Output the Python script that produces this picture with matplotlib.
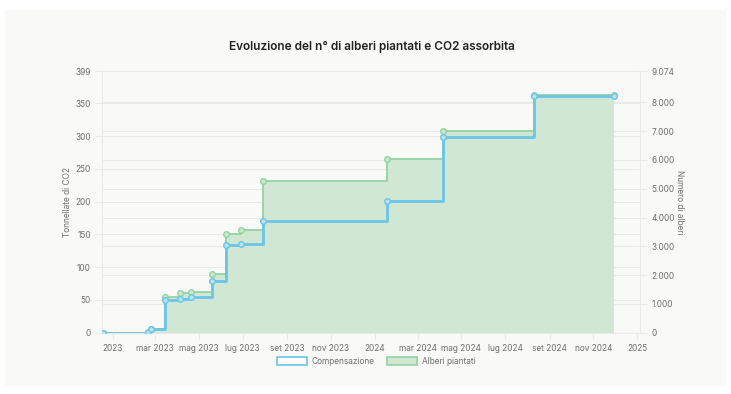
import datetime as dt
import matplotlib
matplotlib.use("Agg")
import matplotlib.pyplot as plt
import matplotlib.dates as mdates
from matplotlib.patches import Rectangle, Patch

# Data
dates = [
    "2022-12-19", "2023-02-19", "2023-02-23", "2023-03-15", "2023-04-05",
    "2023-04-20", "2023-05-19", "2023-06-08", "2023-06-29", "2023-07-29",
    "2024-01-19", "2024-04-06", "2024-08-10", "2024-11-30",
]
co2_tonnes = [0, 1, 5.5, 50, 51, 54, 79, 134, 136, 170, 200.5, 299.5, 362, 362]
trees = [0, 25, 125, 1250, 1370, 1410, 2040, 3430, 3560, 5280, 6020, 7010, 8250, 8250]

left_ticks = [0, 50, 100, 150, 200, 250, 300, 350, 399]
right_ticks = [0, 1000, 2000, 3000, 4000, 5000, 6000, 7000, 8000, 9074]
month_names = ["gen", "feb", "mar", "apr", "mag", "giu", "lug", "ago", "set", "ott", "nov", "dic"]

COLORS = {
    "blue": "#6cc4e6",
    "blue_face": "#b9e2f2",
    "green": "#93d3a2",
    "green_fill": "#d0e8d3",
    "grid": "#e9e9e6",
    "text": "#6e6e6e",
    "panel": "#f9f9f7",
}

plt.rcParams["font.family"] = ["Inter", "DejaVu Sans"]

x = [dt.datetime.strptime(d, "%Y-%m-%d") for d in dates]

fig = plt.figure(figsize=(7.31, 3.94), dpi=100)
fig.patch.set_facecolor("white")
fig.patches.append(Rectangle((5 / 731, 1 - 386 / 394), 721 / 731, 376 / 394,
                             transform=fig.transFigure, facecolor=COLORS["panel"],
                             edgecolor="none", zorder=-5))

ax = fig.add_axes([102 / 731, 1 - 332.7 / 394, 538 / 731, 261.3 / 394])
ax2 = ax.twinx()
ax.set_facecolor("none")
ax2.set_facecolor("none")
ax2.set_zorder(1)
ax.set_zorder(2)

# Trees (right axis) - filled step area
ax2.fill_between(x, trees, step="post", color=COLORS["green_fill"], linewidth=0, zorder=1)
ax2.plot(x, trees, drawstyle="steps-post", color=COLORS["green"], linewidth=1.3, zorder=2)
ax2.plot(x, trees, "o", markersize=4, markerfacecolor="#c8ead0",
         markeredgecolor=COLORS["green"], markeredgewidth=1, zorder=3)

# CO2 (left axis) drawn on top
ax.plot(x, co2_tonnes, drawstyle="steps-post", color=COLORS["blue"], linewidth=2, zorder=4)
ax.plot(x, co2_tonnes, "o", markersize=4, markerfacecolor=COLORS["blue_face"],
        markeredgecolor=COLORS["blue"], markeredgewidth=1, zorder=5)

ax.set_xlim(dt.datetime(2022, 12, 17), dt.datetime(2025, 1, 5))
ax.set_ylim(0, 399)
ax2.set_ylim(0, 9074)

ax.set_yticks(left_ticks)
ax2.set_yticks(right_ticks)
ax2.set_yticklabels([f"{v:,}".replace(",", ".") for v in right_ticks])

ax.xaxis.set_major_locator(mdates.MonthLocator(bymonth=[1, 3, 5, 7, 9, 11]))
ax.xaxis.set_major_formatter(plt.FuncFormatter(
    lambda v, _: (lambda d: str(d.year) if d.month == 1 else f"{month_names[d.month - 1]} {d.year}")(mdates.num2date(v))))

for a in (ax, ax2):
    for s in a.spines.values():
        s.set_visible(False)
    a.tick_params(colors=COLORS["grid"], labelcolor=COLORS["text"], labelsize=6,
                  length=5, width=0.8, pad=3)

# grid lines only on the lower axes so they stay behind the fill
ax2.grid(True, axis="y", color=COLORS["grid"], linewidth=0.8, zorder=0)
ax2.set_axisbelow(True)
for v in left_ticks:
    ax2.axhline(v * 9074 / 399, color=COLORS["grid"], linewidth=0.8, zorder=0)
ax.spines["left"].set_visible(True)
ax.spines["left"].set_color(COLORS["grid"])
ax.spines["bottom"].set_visible(True)
ax.spines["bottom"].set_color(COLORS["grid"])
ax2.spines["right"].set_visible(True)
ax2.spines["right"].set_color(COLORS["grid"])

ax.set_ylabel("Tonnellate di CO2", fontsize=6, color=COLORS["text"], labelpad=2)
ax2.set_ylabel("Numero di alberi", fontsize=6, color=COLORS["text"], rotation=270, labelpad=7)

fig.text(372 / 731, 1 - 47 / 394, "Evoluzione del n° di alberi piantati e CO2 assorbita",
         ha="center", va="center", fontsize=8.5, fontweight="semibold", color="#222222")

handles = [
    Patch(facecolor="white", edgecolor=COLORS["blue"], linewidth=1.2, label="Compensazione"),
    Patch(facecolor=COLORS["green_fill"], edgecolor=COLORS["green"], linewidth=1.2, label="Alberi piantati"),
]
fig.legend(handles=handles, loc="center", bbox_to_anchor=(376 / 731, 1 - 361 / 394),
           ncol=2, frameon=False, fontsize=6, labelcolor=COLORS["text"],
           handlelength=3.6, handleheight=1.1, columnspacing=1.4, handletextpad=0.6)

fig.savefig("out.png", dpi=100, facecolor=fig.get_facecolor())
